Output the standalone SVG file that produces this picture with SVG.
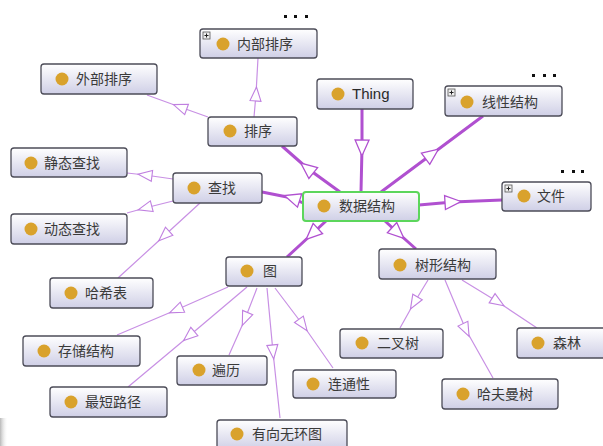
<svg xmlns="http://www.w3.org/2000/svg" width="603" height="446" viewBox="0 0 603 446">
<defs>
<linearGradient id="nodeFill" x1="0" y1="0" x2="0" y2="1">
<stop offset="0" stop-color="#ffffff"/>
<stop offset="1" stop-color="#cfcfe6"/>
</linearGradient>
<linearGradient id="edgeShade" x1="0" y1="0" x2="1" y2="0">
<stop offset="0" stop-color="#b8b8b8"/>
<stop offset="1" stop-color="#ffffff" stop-opacity="0"/>
</linearGradient>
<marker id="arrThick" markerUnits="userSpaceOnUse" markerWidth="30" markerHeight="30" viewBox="-15 -15 30 30" refX="0" refY="0" orient="auto" overflow="visible">
<path d="M-8,-7 L8,0 L-8,7 Z" fill="#ffffff" stroke="#b050d0" stroke-width="1.3"/>
</marker>
<marker id="arrThin" markerUnits="userSpaceOnUse" markerWidth="30" markerHeight="30" viewBox="-15 -15 30 30" refX="0" refY="0" orient="auto" overflow="visible">
<path d="M-7,-5.5 L7,0 L-7,5.5 Z" fill="#ffffff" stroke="#c080e0" stroke-width="1.1"/>
</marker>
</defs>
<style>
.box{fill:url(#nodeFill);stroke:#4c4c58;stroke-width:1.3}
.root{fill:url(#nodeFill);stroke:#5cd65c;stroke-width:2}
.dot{fill:#d9a22c}
.lbl{font-family:"Noto Sans CJK SC","Noto Sans",sans-serif;font-size:14px;fill:#3a3a3a}
.lat{font-family:"Liberation Sans","Noto Sans",sans-serif;font-size:15px;fill:#2a2a2a}
.thick{fill:none;stroke:#b050d0;stroke-width:3;marker-mid:url(#arrThick)}
.thin{fill:none;stroke:#c890e4;stroke-width:1.2;marker-mid:url(#arrThin)}
.plus{fill:#eeeeee;stroke:#555;stroke-width:0.8}
.plusl{stroke:#222;stroke-width:1}
.more{fill:#111}
</style>
<rect x="0" y="418" width="8" height="28" fill="url(#edgeShade)"/>
<g id="connectors">
<polyline class="thick" points="362,109 362,148 361,192"/>
<polyline class="thick" points="381,192 432,154 483,116"/>
<polyline class="thick" points="419,205 453,202 502,200"/>
<polyline class="thick" points="340,192 307,168 282,146"/>
<polyline class="thick" points="303,203 292,198 262,192"/>
<polyline class="thick" points="326,221 312,234 287,257"/>
<polyline class="thick" points="385,221 398,233 416,249"/>
<polyline class="thin" points="254,117 256,94 258,58"/>
<polyline class="thin" points="208,117 180,107 147,95"/>
<polyline class="thin" points="173,179 145,175 127,173"/>
<polyline class="thin" points="173,201 145,208 127,213"/>
<polyline class="thin" points="200,203 164,236 118,278"/>
<polyline class="thin" points="228,287 176,310 117,335"/>
<polyline class="thin" points="247,287 189,336 128,387"/>
<polyline class="thin" points="257,288 245,319 229,355"/>
<polyline class="thin" points="267,288 273,352 280,418"/>
<polyline class="thin" points="275,288 303,325 333,368"/>
<polyline class="thin" points="428,280 414,303 400,328"/>
<polyline class="thin" points="445,280 466,330 493,378"/>
<polyline class="thin" points="462,280 498,302 537,328"/>
</g>
<g id="n_neibupaixu"><rect class="box" x="200" y="29" width="117" height="29" rx="3"/><rect class="plus" x="203" y="32" width="7" height="7"/><path class="plusl" d="M204.5,35.5 H208.5 M206.5,33.5 V37.5"/><circle class="dot" cx="223" cy="44" r="6.5"/><text class="lbl" x="237" y="49">内部排序</text></g>
<g id="n_thing"><rect class="box" x="317" y="79" width="96" height="30" rx="3"/><circle class="dot" cx="338" cy="94" r="6.5"/><text class="lat" x="352" y="99">Thing</text></g>
<g id="n_paixu"><rect class="box" x="208" y="117" width="89" height="29" rx="3"/><circle class="dot" cx="230" cy="131" r="6.5"/><text class="lbl" x="244" y="136">排序</text></g>
<g id="n_waibupaixu"><rect class="box" x="41" y="64" width="116" height="30" rx="3"/><circle class="dot" cx="62" cy="79" r="6.5"/><text class="lbl" x="76" y="84">外部排序</text></g>
<g id="n_jingtai"><rect class="box" x="11" y="148" width="116" height="29" rx="3"/><circle class="dot" cx="31" cy="163" r="6.5"/><text class="lbl" x="44" y="168">静态查找</text></g>
<g id="n_chazhao"><rect class="box" x="173" y="173" width="89" height="30" rx="3"/><circle class="dot" cx="194" cy="188" r="6.5"/><text class="lbl" x="208" y="193">查找</text></g>
<g id="n_dongtai"><rect class="box" x="11" y="214" width="116" height="30" rx="3"/><circle class="dot" cx="31" cy="229" r="6.5"/><text class="lbl" x="44" y="234">动态查找</text></g>
<g id="n_haxi"><rect class="box" x="50" y="278" width="103" height="30" rx="3"/><circle class="dot" cx="71" cy="293" r="6.5"/><text class="lbl" x="85" y="298">哈希表</text></g>
<g id="n_tu"><rect class="box" x="226" y="257" width="76" height="29" rx="3"/><circle class="dot" cx="247" cy="271" r="6.5"/><text class="lbl" x="263" y="276">图</text></g>
<g id="n_cunchu"><rect class="box" x="23" y="336" width="117" height="30" rx="3"/><circle class="dot" cx="44" cy="351" r="6.5"/><text class="lbl" x="58" y="356">存储结构</text></g>
<g id="n_bianli"><rect class="box" x="177" y="356" width="90" height="29" rx="3"/><circle class="dot" cx="199" cy="370" r="6.5"/><text class="lbl" x="212" y="375">遍历</text></g>
<g id="n_zuiduan"><rect class="box" x="50" y="387" width="117" height="30" rx="3"/><circle class="dot" cx="71" cy="402" r="6.5"/><text class="lbl" x="85" y="407">最短路径</text></g>
<g id="n_liantong"><rect class="box" x="293" y="370" width="103" height="28" rx="3"/><circle class="dot" cx="313" cy="384" r="6.5"/><text class="lbl" x="328" y="389">连通性</text></g>
<g id="n_youxiang"><rect class="box" x="217" y="420" width="130" height="30" rx="3"/><circle class="dot" cx="237" cy="434" r="6.5"/><text class="lbl" x="252" y="439">有向无环图</text></g>
<g id="n_shuxing"><rect class="box" x="379" y="249" width="117" height="30" rx="3"/><circle class="dot" cx="400" cy="265" r="6.5"/><text class="lbl" x="415" y="270">树形结构</text></g>
<g id="n_erchashu"><rect class="box" x="340" y="329" width="103" height="29" rx="3"/><circle class="dot" cx="362" cy="343" r="6.5"/><text class="lbl" x="377" y="348">二叉树</text></g>
<g id="n_senlin"><rect class="box" x="517" y="328" width="92" height="30" rx="3"/><circle class="dot" cx="538" cy="343" r="6.5"/><text class="lbl" x="553" y="348">森林</text></g>
<g id="n_hafuman"><rect class="box" x="442" y="379" width="116" height="30" rx="3"/><circle class="dot" cx="463" cy="394" r="6.5"/><text class="lbl" x="477" y="399">哈夫曼树</text></g>
<g id="n_shujujiegou"><rect class="root" x="303" y="192" width="116" height="29" rx="3"/><circle class="dot" cx="324" cy="206" r="6.5"/><text class="lbl" x="339" y="211">数据结构</text></g>
<g id="n_xianxing"><rect class="box" x="445" y="86" width="117" height="30" rx="3"/><rect class="plus" x="448" y="89" width="7" height="7"/><path class="plusl" d="M449.5,92.5 H453.5 M451.5,90.5 V94.5"/><circle class="dot" cx="467" cy="102" r="6.5"/><text class="lbl" x="482" y="107">线性结构</text></g>
<g id="n_wenjian"><rect class="box" x="502" y="182" width="89" height="29" rx="3"/><rect class="plus" x="505" y="185" width="7" height="7"/><path class="plusl" d="M506.5,188.5 H510.5 M508.5,186.5 V190.5"/><circle class="dot" cx="524" cy="196" r="6.5"/><text class="lbl" x="537" y="201">文件</text></g>
<g id="ellipses">
<rect class="more" x="284" y="15" width="3" height="3"/><rect class="more" x="294" y="15" width="3" height="3"/><rect class="more" x="305" y="15" width="3" height="3"/>
<rect class="more" x="532" y="74" width="3" height="3"/><rect class="more" x="543" y="74" width="3" height="3"/><rect class="more" x="553" y="74" width="3" height="3"/>
<rect class="more" x="561" y="170" width="3" height="3"/><rect class="more" x="572" y="170" width="3" height="3"/><rect class="more" x="581" y="170" width="3" height="3"/>
</g>
</svg>
